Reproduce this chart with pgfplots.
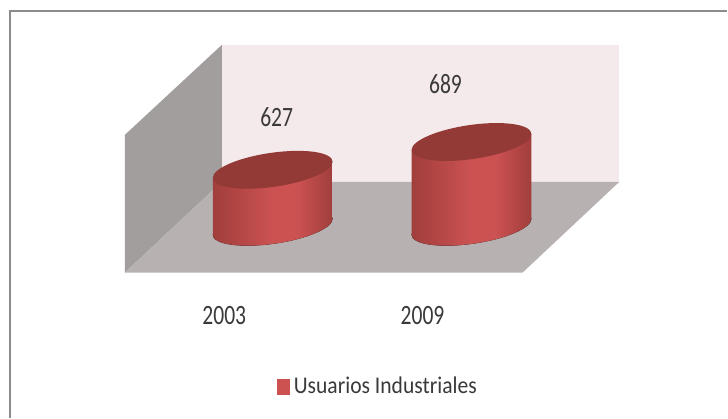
\documentclass[border=0pt]{standalone}
\usepackage{pgfplots}
\pgfplotsset{compat=1.18}
\usepackage{graphicx}
\usepackage{fontspec}
\setmainfont{Carlito}
\definecolor{backwall}{HTML}{F5EAEB}
\definecolor{sidewall}{HTML}{A39E9E}
\definecolor{floorcol}{HTML}{B8B1B1}
\definecolor{captop}{HTML}{933A37}
\definecolor{cylmid}{HTML}{CC5252}
\definecolor{cyledge}{HTML}{A03E3C}
\definecolor{labeltxt}{HTML}{3A3A3A}
\definecolor{framecol}{HTML}{8C8C8C}
\pgfdeclarehorizontalshading{cylbody}{100bp}{
  color(0bp)=(cyledge); color(25bp)=(cyledge); color(50bp)=(cylmid);
  color(60bp)=(cylmid); color(75bp)=(cyledge); color(100bp)=(cyledge)}
\newcommand{\lbl}[1]{\scalebox{0.77}[1]{\fontsize{28}{28}\selectfont #1}}
\newcommand{\leg}[1]{\scalebox{0.9}[1]{\fontsize{24}{24}\selectfont #1}}
\begin{document}
\begin{tikzpicture}
% room: walls, floor, frame and labels, in pixels of the picture
\begin{axis}[name=room, at={(0,0)}, anchor=south west, scale only axis, width=728pt, height=418pt,
  xmin=0, xmax=728, ymin=0, ymax=418, y dir=reverse, hide axis, clip=false]
\addplot[fill=white, draw=none] coordinates {(0,0) (728,0) (728,418) (0,418)} -- cycle;
\addplot[draw=framecol, line width=1.6pt] coordinates {(10,418) (10,11) (728,11)};
\addplot[fill=backwall, draw=none] coordinates {(222,45) (620,45) (620,182) (222,182)} -- cycle;
\addplot[fill=sidewall, draw=none] coordinates {(222,45) (125,135) (125,273) (222,182)} -- cycle;
\addplot[fill=floorcol, draw=none] coordinates {(222,182) (620,182) (523,273) (125,273)} -- cycle;
\addplot[fill=cylmid, draw=none] coordinates {(277,379) (290,379) (290,395) (277,395)} -- cycle;
\node[text=labeltxt] at (axis cs:224.5,316) {\lbl{2003}};
\node[text=labeltxt] at (axis cs:423,316) {\lbl{2009}};
\node[text=labeltxt, anchor=west, inner sep=0pt] at (axis cs:294,386) {\leg{Usuarios Industriales}};
\end{axis}
% cylinders: y is the value, base at 500 and 0.449 px per unit
\begin{axis}[at={(0,0)}, anchor=south west, scale only axis, width=728pt, height=418pt,
  xmin=0, xmax=728, ymin=74.6, ymax=1005.6, hide axis, clip=false]
\coordinate (baseA) at (axis cs:273,500);
\coordinate (topA) at (axis cs:273,627);
\coordinate (baseB) at (axis cs:472,500);
\coordinate (topB) at (axis cs:472,689);
% 2003
\fill[shading=cylbody, shift={(baseA)}, cm={1,0.133,0,1,(0pt,0pt)}] (0pt,0pt) ellipse [x radius=60pt, y radius=17.2pt];
\addplot[shading=cylbody, draw=none] coordinates {(213,609.2) (333,644.8) (333,517.8) (213,482.2)} -- cycle;
\fill[captop, shift={(topA)}, cm={1,0.133,0,1,(0pt,0pt)}] (0pt,0pt) ellipse [x radius=60pt, y radius=17.2pt];
\node[text=labeltxt] at (axis cs:277,745) {\lbl{627}};
% 2009
\fill[shading=cylbody, shift={(baseB)}, cm={1,0.133,0,1,(0pt,0pt)}] (0pt,0pt) ellipse [x radius=60pt, y radius=17.2pt];
\addplot[shading=cylbody, draw=none] coordinates {(412,671.2) (532,706.8) (532,517.8) (412,482.2)} -- cycle;
\fill[captop, shift={(topB)}, cm={1,0.133,0,1,(0pt,0pt)}] (0pt,0pt) ellipse [x radius=60pt, y radius=17.2pt];
\node[text=labeltxt] at (axis cs:446,818) {\lbl{689}};
\end{axis}
\end{tikzpicture}
\end{document}
